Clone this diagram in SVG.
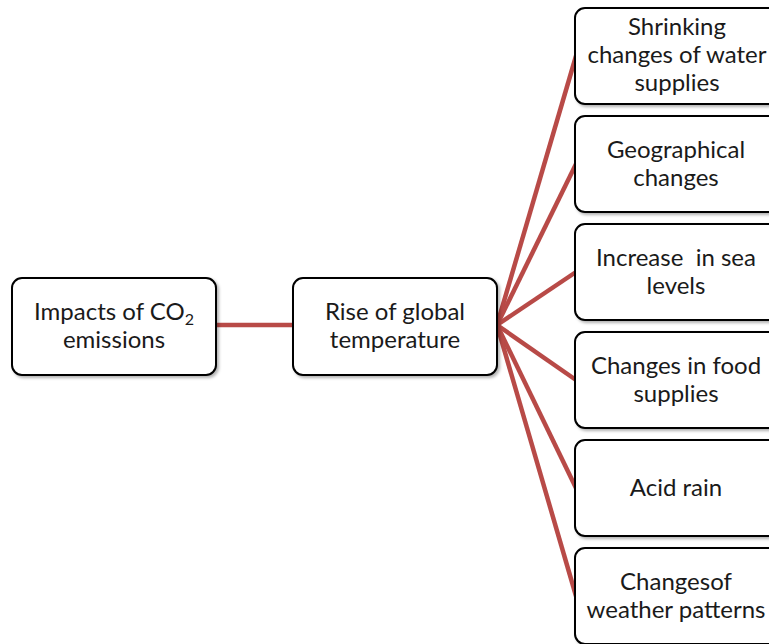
<svg xmlns="http://www.w3.org/2000/svg" width="769" height="644" viewBox="0 0 769 644">
<defs>
<filter id="sh" x="-10%" y="-10%" width="130%" height="130%">
<feDropShadow dx="2" dy="2" stdDeviation="1.5" flood-color="#000" flood-opacity="0.3"/>
</filter>
<style>
.box{fill:#fff;stroke:#000;stroke-width:2;filter:url(#sh)}
.t{font-family:Lato,"Open Sans","Liberation Sans",sans-serif;font-size:24px;fill:#1a1a1a;text-anchor:middle}
.c{stroke:#b84a47;stroke-width:4.5;fill:none}
</style>
</defs>
<rect width="769" height="644" fill="#fff"/>
<g id="connectors">
<line class="c" x1="216" y1="325" x2="293" y2="325"/>
<line class="c" x1="497" y1="325" x2="576" y2="56"/>
<line class="c" x1="497" y1="325" x2="576" y2="164"/>
<line class="c" x1="497" y1="325" x2="576" y2="272"/>
<line class="c" x1="497" y1="325" x2="576" y2="380"/>
<line class="c" x1="497" y1="325" x2="576" y2="488"/>
<line class="c" x1="497" y1="325" x2="576" y2="596"/>
</g>
<g id="n1">
<rect class="box" x="12" y="278" width="204" height="97" rx="10"/>
<text class="t" x="114" y="320">Impacts of CO<tspan font-size="16" dy="5">2</tspan></text>
<text class="t" x="114" y="348">emissions</text>
</g>
<g id="n2">
<rect class="box" x="293" y="278" width="204" height="97" rx="10"/>
<text class="t" x="395" y="320">Rise of global</text>
<text class="t" x="395" y="348">temperature</text>
</g>
<g id="r1">
<rect class="box" x="575" y="8" width="210" height="96" rx="10"/>
<text class="t" x="677" y="35">Shrinking</text>
<text class="t" x="677" y="63">changes of water</text>
<text class="t" x="677" y="91">supplies</text>
</g>
<g id="r2">
<rect class="box" x="575" y="116" width="210" height="96" rx="10"/>
<text class="t" x="676" y="158">Geographical</text>
<text class="t" x="676" y="186">changes</text>
</g>
<g id="r3">
<rect class="box" x="575" y="224" width="210" height="96" rx="10"/>
<text class="t" x="676" y="266" xml:space="preserve">Increase  in sea</text>
<text class="t" x="676" y="294">levels</text>
</g>
<g id="r4">
<rect class="box" x="575" y="332" width="210" height="96" rx="10"/>
<text class="t" x="676" y="374">Changes in food</text>
<text class="t" x="676" y="402">supplies</text>
</g>
<g id="r5">
<rect class="box" x="575" y="440" width="210" height="96" rx="10"/>
<text class="t" x="676" y="496">Acid rain</text>
</g>
<g id="r6">
<rect class="box" x="575" y="548" width="210" height="96" rx="10"/>
<text class="t" x="676" y="590">Changesof</text>
<text class="t" x="676" y="618">weather patterns</text>
</g>
</svg>
